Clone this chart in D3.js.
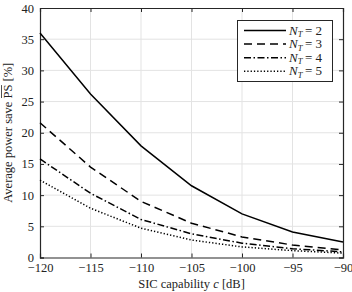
<!DOCTYPE html>
<html><head><meta charset="utf-8">
<script src="https://cdn.jsdelivr.net/npm/d3@7"></script>
<style>body{margin:0;background:#fff}svg{display:block}text{font-family:"Liberation Serif","DejaVu Serif",serif;fill:#222}</style>
</head><body><svg id="c" width="352" height="292"></svg>
<script>
const xValues = [-120, -115, -110, -105, -100, -95, -90];
const nt2 = [36.0, 26.2, 17.9, 11.5, 7.0, 4.1, 2.5];
const nt3 = [21.6, 14.5, 9.0, 5.5, 3.3, 2.0, 1.2];
const nt4 = [15.8, 10.3, 6.1, 3.8, 2.3, 1.4, 0.9];
const nt5 = [12.4, 7.9, 4.7, 2.8, 1.7, 1.1, 0.7];
const seriesNames = ["2", "3", "4", "5"];
const xTicks = [-120, -115, -110, -105, -100, -95, -90];
const yTicks = [0, 5, 10, 15, 20, 25, 30, 35, 40];

const svg = d3.select("#c");
const L = 40, R = 343, T = 8, B = 257.5;
const x = d3.scaleLinear().domain([-120, -90]).range([L, R]);
const y = d3.scaleLinear().domain([0, 40]).range([B, T]);

// grid
svg.append("g").selectAll("line").data(xTicks.slice(1, -1)).join("line")
  .attr("x1", d => x(d)).attr("x2", d => x(d)).attr("y1", T).attr("y2", B)
  .attr("stroke", "#e3e3e3").attr("stroke-width", 1);
svg.append("g").selectAll("line").data(yTicks.slice(1, -1)).join("line")
  .attr("y1", d => y(d)).attr("y2", d => y(d)).attr("x1", L).attr("x2", R)
  .attr("stroke", "#e3e3e3").attr("stroke-width", 1);

// axes
const ax = svg.append("g").attr("transform", `translate(0,${B})`)
  .call(d3.axisBottom(x).tickValues(xTicks).tickSize(-4).tickPadding(6).tickFormat(d3.format("d")));
const ay = svg.append("g").attr("transform", `translate(${L},0)`)
  .call(d3.axisLeft(y).tickValues(yTicks).tickSize(-4).tickPadding(6));
const at = svg.append("g").attr("transform", `translate(0,${T})`)
  .call(d3.axisTop(x).tickValues(xTicks).tickSize(-4).tickFormat(""));
const ar = svg.append("g").attr("transform", `translate(${R},0)`)
  .call(d3.axisRight(y).tickValues(yTicks).tickSize(-4).tickFormat(""));
[ax, ay, at, ar].forEach(g => {
  g.select(".domain").attr("stroke", "#262626").attr("stroke-width", 1.2);
  g.selectAll(".tick line").attr("stroke", "#262626");
  g.selectAll("text").style("font-family", '"Liberation Serif",serif').style("font-size", "12.5px").attr("fill", "#222");
});

// lines
const dashes = [null, "8,5", "7,2.5,1.5,2.5", "1.3,2"];
const data = [nt2, nt3, nt4, nt5];
const line = d3.line().x((d, i) => x(xValues[i])).y(d => y(d));
data.forEach((s, k) => {
  svg.append("path").datum(s).attr("d", line).attr("fill", "none")
    .attr("stroke", "#000").attr("stroke-width", 1.5)
    .attr("stroke-dasharray", dashes[k]);
});

// legend
const lg = svg.append("g");
lg.append("rect").attr("x", 237.5).attr("y", 20.5).attr("width", 95).attr("height", 61)
  .attr("fill", "#fff").attr("stroke", "#262626").attr("stroke-width", 1);
seriesNames.forEach((n, k) => {
  const yy = 30.5 + k * 13.6;
  lg.append("line").attr("x1", 244).attr("x2", 286).attr("y1", yy).attr("y2", yy)
    .attr("stroke", "#000").attr("stroke-width", 1.5).attr("stroke-dasharray", dashes[k]);
  const t = lg.append("text").attr("x", 289).attr("y", yy + 4).style("font-size", "13px");
  t.append("tspan").text("N").style("font-style", "italic");
  t.append("tspan").text("T").style("font-style", "italic").style("font-size", "8.5px").attr("dy", 2.5);
  t.append("tspan").text("\u2009= " + n).attr("dy", -2.5);
});

// labels
const xl = svg.append("text").attr("x", (L + R) / 2).attr("y", 288).attr("text-anchor", "middle").style("font-size", "12.5px");
xl.append("tspan").text("SIC capability ");
xl.append("tspan").text("c").style("font-style", "italic");
xl.append("tspan").text(" [dB]");
const yg = svg.append("g").attr("transform", `translate(12,${(T + B) / 2}) rotate(-90)`);
const yl = yg.append("text").attr("text-anchor", "middle").style("font-size", "12.5px");
const pre = "Average power save ", mid = "PS", post = " [%]";
yl.text(pre + mid + post);
const node = yl.node();
const total = node.getComputedTextLength();
const s0 = node.getSubStringLength(0, pre.length);
const s1 = node.getSubStringLength(pre.length, mid.length);
yg.append("line").attr("x1", -total / 2 + s0 + 0.5).attr("x2", -total / 2 + s0 + s1 - 0.5)
  .attr("y1", -10.5).attr("y2", -10.5).attr("stroke", "#222").attr("stroke-width", 0.8);
</script></body></html>
